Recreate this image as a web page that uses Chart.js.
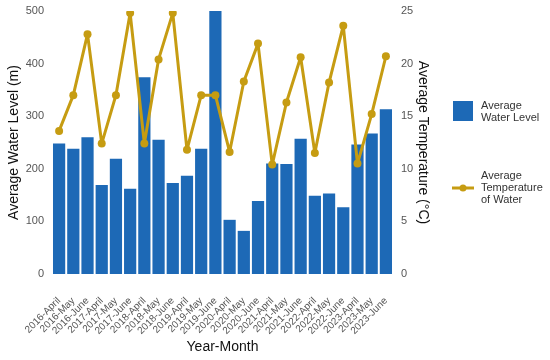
<!DOCTYPE html>
<html>
<head>
<meta charset="utf-8">
<script src="https://cdn.jsdelivr.net/npm/chart.js@4.4.1/dist/chart.umd.min.js"></script>
<style>
  html, body { margin: 0; padding: 0; background: #fff; }
  #wrap { width: 550px; height: 360px; position: relative; }
</style>
</head>
<body>
<div id="wrap"><canvas id="waterChart"></canvas></div>
<script>
const months = [
    "2016-April","2016-May","2016-June","2017-April","2017-May","2017-June",
    "2018-April","2018-May","2018-June","2019-April","2019-May","2019-June",
    "2020-April","2020-May","2020-June","2021-April","2021-May","2021-June",
    "2022-April","2022-May","2022-June","2023-April","2023-May","2023-June"
];
const waterLevel = [248, 238, 260, 169, 219, 162, 374, 255, 173, 187, 238, 500,
                    103, 82, 139, 210, 209, 257, 149, 153, 127, 246, 267, 313];
const waterTemp = [13.6, 17.0, 22.8, 12.4, 17.0, 24.8, 12.4, 20.4, 24.8, 11.8, 17.0, 17.0,
                   11.6, 18.3, 21.9, 10.4, 16.3, 20.6, 11.5, 18.2, 23.6, 10.5, 15.2, 20.7];
const levelTicks = [0, 100, 200, 300, 400, 500];
const tempTicks = [0, 5, 10, 15, 20, 25];

const BAR_COLOR = "#1d69b6";
const LINE_COLOR = "#c69c12";
const FONT = "'Liberation Sans', Arial, sans-serif";

// legend with wrapped labels, drawn at the right side
const sideLegend = {
    id: "sideLegend",
    afterDraw(chart) {
        const ctx = chart.ctx;
        ctx.save();
        ctx.font = "11px " + FONT;
        ctx.textBaseline = "middle";
        ctx.textAlign = "left";

        ctx.fillStyle = BAR_COLOR;
        ctx.fillRect(453, 101, 20, 20);
        ctx.fillStyle = "#333";
        ["Average", "Water Level"].forEach((t, i) => ctx.fillText(t, 481, 106 + i * 12));

        ctx.strokeStyle = LINE_COLOR;
        ctx.lineWidth = 3;
        ctx.beginPath();
        ctx.moveTo(452, 188);
        ctx.lineTo(474, 188);
        ctx.stroke();
        ctx.fillStyle = LINE_COLOR;
        ctx.beginPath();
        ctx.arc(463, 188, 3.5, 0, Math.PI * 2);
        ctx.fill();
        ctx.fillStyle = "#333";
        ["Average", "Temperature", "of Water"].forEach((t, i) => ctx.fillText(t, 481, 176 + i * 12));
        ctx.restore();
    }
};

// fixed axis sizes so the plot area lands where the original has it
function fixWidth(w) {
    return scale => {
        scale.width = w;
        scale.paddingTop = 0;
        scale.paddingBottom = 0;
    };
}

new Chart(document.getElementById("waterChart"), {
    type: "bar",
    data: {
        labels: months,
        datasets: [
            {
                type: "line",
                label: "Average Temperature of Water",
                data: waterTemp,
                yAxisID: "yTemp",
                borderColor: LINE_COLOR,
                backgroundColor: LINE_COLOR,
                borderWidth: 3,
                borderJoinStyle: "round",
                pointRadius: 4,
                pointBackgroundColor: LINE_COLOR,
                pointBorderWidth: 0,
                tension: 0,
                order: 0
            },
            {
                label: "Average Water Level",
                data: waterLevel,
                yAxisID: "yLevel",
                backgroundColor: BAR_COLOR,
                categoryPercentage: 1,
                barPercentage: 0.86,
                order: 1
            }
        ]
    },
    options: {
        responsive: true,
        maintainAspectRatio: false,
        animation: false,
        layout: {
            autoPadding: false,
            padding: { top: 11, right: 119, left: 6, bottom: 4 }
        },
        plugins: {
            legend: { display: false },
            tooltip: { enabled: false }
        },
        scales: {
            x: {
                grid: { display: false, drawTicks: false },
                border: { display: false },
                afterFit: scale => {
                    scale.paddingLeft = 0;
                    scale.paddingRight = 0;
                    scale.height = 82;
                },
                ticks: {
                    minRotation: 45,
                    maxRotation: 45,
                    autoSkip: false,
                    color: "#555",
                    font: { family: FONT, size: 10 },
                    padding: 21
                },
                title: {
                    display: true,
                    text: "Year-Month",
                    color: "#111",
                    font: { family: FONT, size: 14 },
                    padding: { top: 0, bottom: 0 }
                }
            },
            yLevel: {
                position: "left",
                min: 0,
                max: 500,
                grid: { display: false, drawTicks: false },
                border: { display: false },
                afterBuildTicks: axis => { axis.ticks = levelTicks.map(v => ({ value: v })); },
                afterFit: fixWidth(46),
                ticks: {
                    color: "#555",
                    font: { family: FONT, size: 11 },
                    padding: 8
                },
                title: {
                    display: true,
                    text: "Average Water Level (m)",
                    color: "#111",
                    font: { family: FONT, size: 14 },
                    padding: { top: 0, bottom: 2 }
                }
            },
            yTemp: {
                position: "right",
                min: 0,
                max: 25,
                grid: { display: false, drawTicks: false },
                border: { display: false },
                afterBuildTicks: axis => { axis.ticks = tempTicks.map(v => ({ value: v })); },
                afterFit: fixWidth(38),
                ticks: {
                    color: "#555",
                    font: { family: FONT, size: 11 },
                    padding: 8
                },
                title: {
                    display: true,
                    text: "Average Temperature (°C)",
                    color: "#111",
                    font: { family: FONT, size: 14 },
                    padding: { top: 0, bottom: 0 }
                }
            }
        }
    },
    plugins: [sideLegend]
});
</script>
</body>
</html>
